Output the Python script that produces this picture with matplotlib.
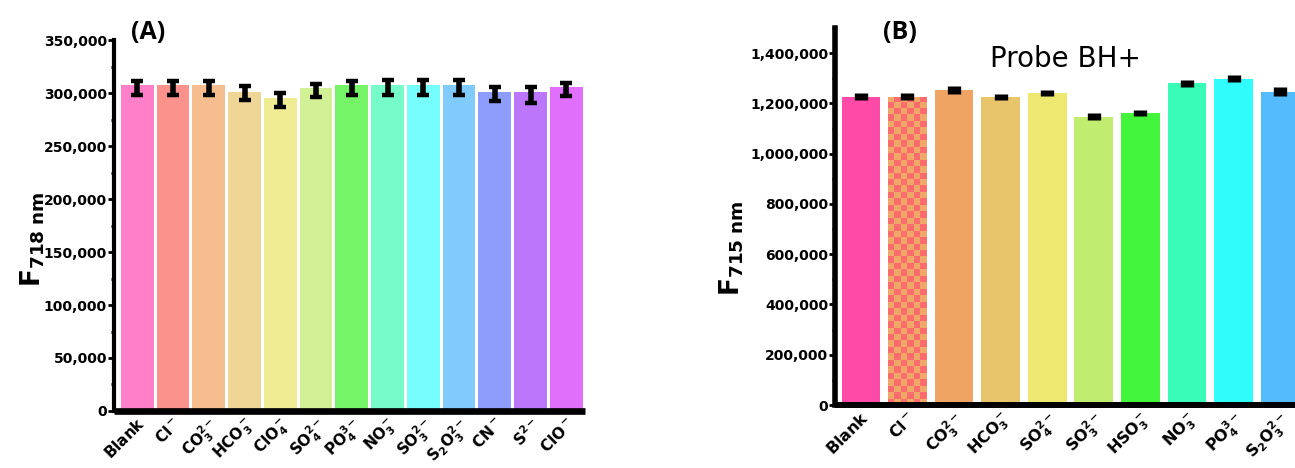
import numpy as np
import matplotlib
matplotlib.use("Agg")
import matplotlib.pyplot as plt
from matplotlib.colors import ListedColormap
from matplotlib.ticker import FuncFormatter, MultipleLocator

plt.rcParams['font.family'] = ['DejaVu Sans']
plt.rcParams['mathtext.fontset'] = 'dejavusans'

# panel A: F718 for each anion
a_labels = [r'$\mathbf{Blank}$', r'$\mathbf{Cl^-}$', r'$\mathbf{CO_3^{2-}}$',
            r'$\mathbf{HCO_3^-}$', r'$\mathbf{ClO_4^-}$', r'$\mathbf{SO_4^{2-}}$',
            r'$\mathbf{PO_4^{3-}}$', r'$\mathbf{NO_3^-}$', r'$\mathbf{SO_3^{2-}}$',
            r'$\mathbf{S_2O_3^{2-}}$', r'$\mathbf{CN^-}$', r'$\mathbf{S^{2-}}$',
            r'$\mathbf{ClO^-}$']
a_vals = [307500, 307500, 307500, 301200, 295000, 304400, 307500,
          307500, 307500, 307500, 301200, 301200, 305900]
a_err_lo = [9000, 9000, 9000, 8000, 8500, 8500, 9000, 9500, 9500, 9500, 9000, 10500, 9000]
a_err_hi = [4000, 4000, 4000, 5000, 5000, 4500, 4000, 4500, 4500, 4500, 4500, 4500, 4000]
a_colors = ['#ff7fc8', '#fb928c', '#f6be8f', '#efd596', '#f0ec94', '#d2f096', '#74f466',
            '#76fcc8', '#76feff', '#80cafc', '#8e9cfc', '#bc76fc', '#e070fc']

# panel B: F715 for probe BH+
b_labels = [r'$\mathbf{Blank}$', r'$\mathbf{Cl^-}$', r'$\mathbf{CO_3^{2-}}$',
            r'$\mathbf{HCO_3^-}$', r'$\mathbf{SO_4^{2-}}$', r'$\mathbf{SO_3^{2-}}$',
            r'$\mathbf{HSO_3^-}$', r'$\mathbf{NO_3^-}$', r'$\mathbf{PO_4^{3-}}$',
            r'$\mathbf{S_2O_3^{2-}}$']
b_vals = [1227000, 1227000, 1253000, 1227000, 1241000, 1148000, 1162000,
          1280000, 1299000, 1247000]
b_sd = [13000, 15000, 15000, 12000, 13000, 15000, 13000, 15000, 14000, 18000]
b_colors = ['#ff4aa8', '#fc6c6c', '#f0a464', '#e8c46a', '#ece870', '#c0ec70', '#42f43a',
            '#38fcb8', '#30fcfc', '#54bcfc']
checker_colors = ['#fc6c6c', '#f0a868']

comma = FuncFormatter(lambda v, p: '{:,.0f}'.format(v))

fig = plt.figure(figsize=(12.95, 4.68), dpi=100)


def style_axis(ax, lw_left, lw_bottom):
    for s in ['top', 'right']:
        ax.spines[s].set_visible(False)
    ax.spines['left'].set_linewidth(lw_left)
    ax.spines['bottom'].set_linewidth(lw_bottom)
    ax.spines['bottom'].set_capstyle('butt')
    ax.yaxis.set_major_formatter(comma)
    ax.tick_params(axis='y', which='major', length=4, width=2, pad=1,
                   labelsize=10)
    ax.tick_params(axis='y', which='minor', length=2, width=2)
    ax.tick_params(axis='x', length=0, pad=3)
    for t in ax.get_yticklabels():
        t.set_fontweight('bold')


# ---- (A)
ax1 = fig.add_axes([0.088, 0.1218, 0.364, 0.7927])
xa = np.arange(len(a_vals))
ax1.bar(xa, a_vals, width=0.915, color=a_colors, zorder=2)
ax1.errorbar(xa, a_vals, yerr=[a_err_lo, a_err_hi], fmt='none', ecolor='black',
             elinewidth=4, capsize=4.6, capthick=3.2, zorder=3)
ax1.set_xlim(-0.65, 12.53)
ax1.set_ylim(0, 350000)
ax1.yaxis.set_major_locator(MultipleLocator(50000))
ax1.yaxis.set_minor_locator(MultipleLocator(25000))
style_axis(ax1, 3, 4.8)
ax1.set_xticks(xa)
ax1.set_xticklabels(a_labels, rotation=45, ha='right', rotation_mode='anchor',
                    fontsize=11)
fig.text(0.025, 0.49, r'$\mathbf{F_{718\ nm}}$', rotation=90, fontsize=19,
         ha='center', va='center')
fig.text(0.101, 0.93, '(A)', fontsize=18, fontweight='bold', family='Open Sans',
         ha='left', va='center')

# ---- (B)
ax2 = fig.add_axes([0.6448, 0.1346, 0.3552, 0.8054])
xb = np.arange(len(b_vals))
bars_b = ax2.bar(xb, b_vals, width=0.83, color=b_colors, zorder=2)
ax2.set_xlim(-0.556, 9.32)
ax2.set_ylim(0, 1500000)

# checkered fill for the Cl- bar
cl_bar = bars_b[1]
x0, w, h = cl_bar.get_x(), cl_bar.get_width(), cl_bar.get_height()
p0 = ax2.transData.transform((x0, 0))
p1 = ax2.transData.transform((x0 + w, h))
ncols = 6
cell = (p1[0] - p0[0]) / ncols
nrows = int(round((p1[1] - p0[1]) / cell))
board = np.indices((nrows, ncols)).sum(axis=0) % 2
im = ax2.imshow(board, cmap=ListedColormap(checker_colors),
                extent=(x0, x0 + w, 0, nrows * cell / (p1[1] - p0[1]) * h),
                aspect='auto', interpolation='nearest', origin='lower', zorder=2.5)
im.set_clip_path(cl_bar)
ax2.set_xlim(-0.556, 9.32)
ax2.set_ylim(0, 1500000)

eb = ax2.errorbar(xb, b_vals, yerr=b_sd, fmt='none', ecolor='black',
                  elinewidth=9.6, capsize=0, zorder=3)
eb[2][0].set_capstyle('butt')
ax2.yaxis.set_major_locator(MultipleLocator(200000))
ax2.yaxis.set_minor_locator(MultipleLocator(100000))
style_axis(ax2, 4, 4.3)
ax2.set_xticks(xb)
ax2.set_xticklabels(b_labels, rotation=45, ha='right', rotation_mode='anchor',
                    fontsize=11.5)
ax2.text(0.5, 0.955, 'Probe BH+', transform=ax2.transAxes, fontsize=20,
         ha='center', va='top')
fig.text(0.565, 0.47, r'$\mathbf{F_{715\ nm}}$', rotation=90, fontsize=19,
         ha='center', va='center')
fig.text(0.682, 0.93, '(B)', fontsize=18, fontweight='bold', family='Open Sans',
         ha='left', va='center')

fig.savefig('out.png', dpi=100)
